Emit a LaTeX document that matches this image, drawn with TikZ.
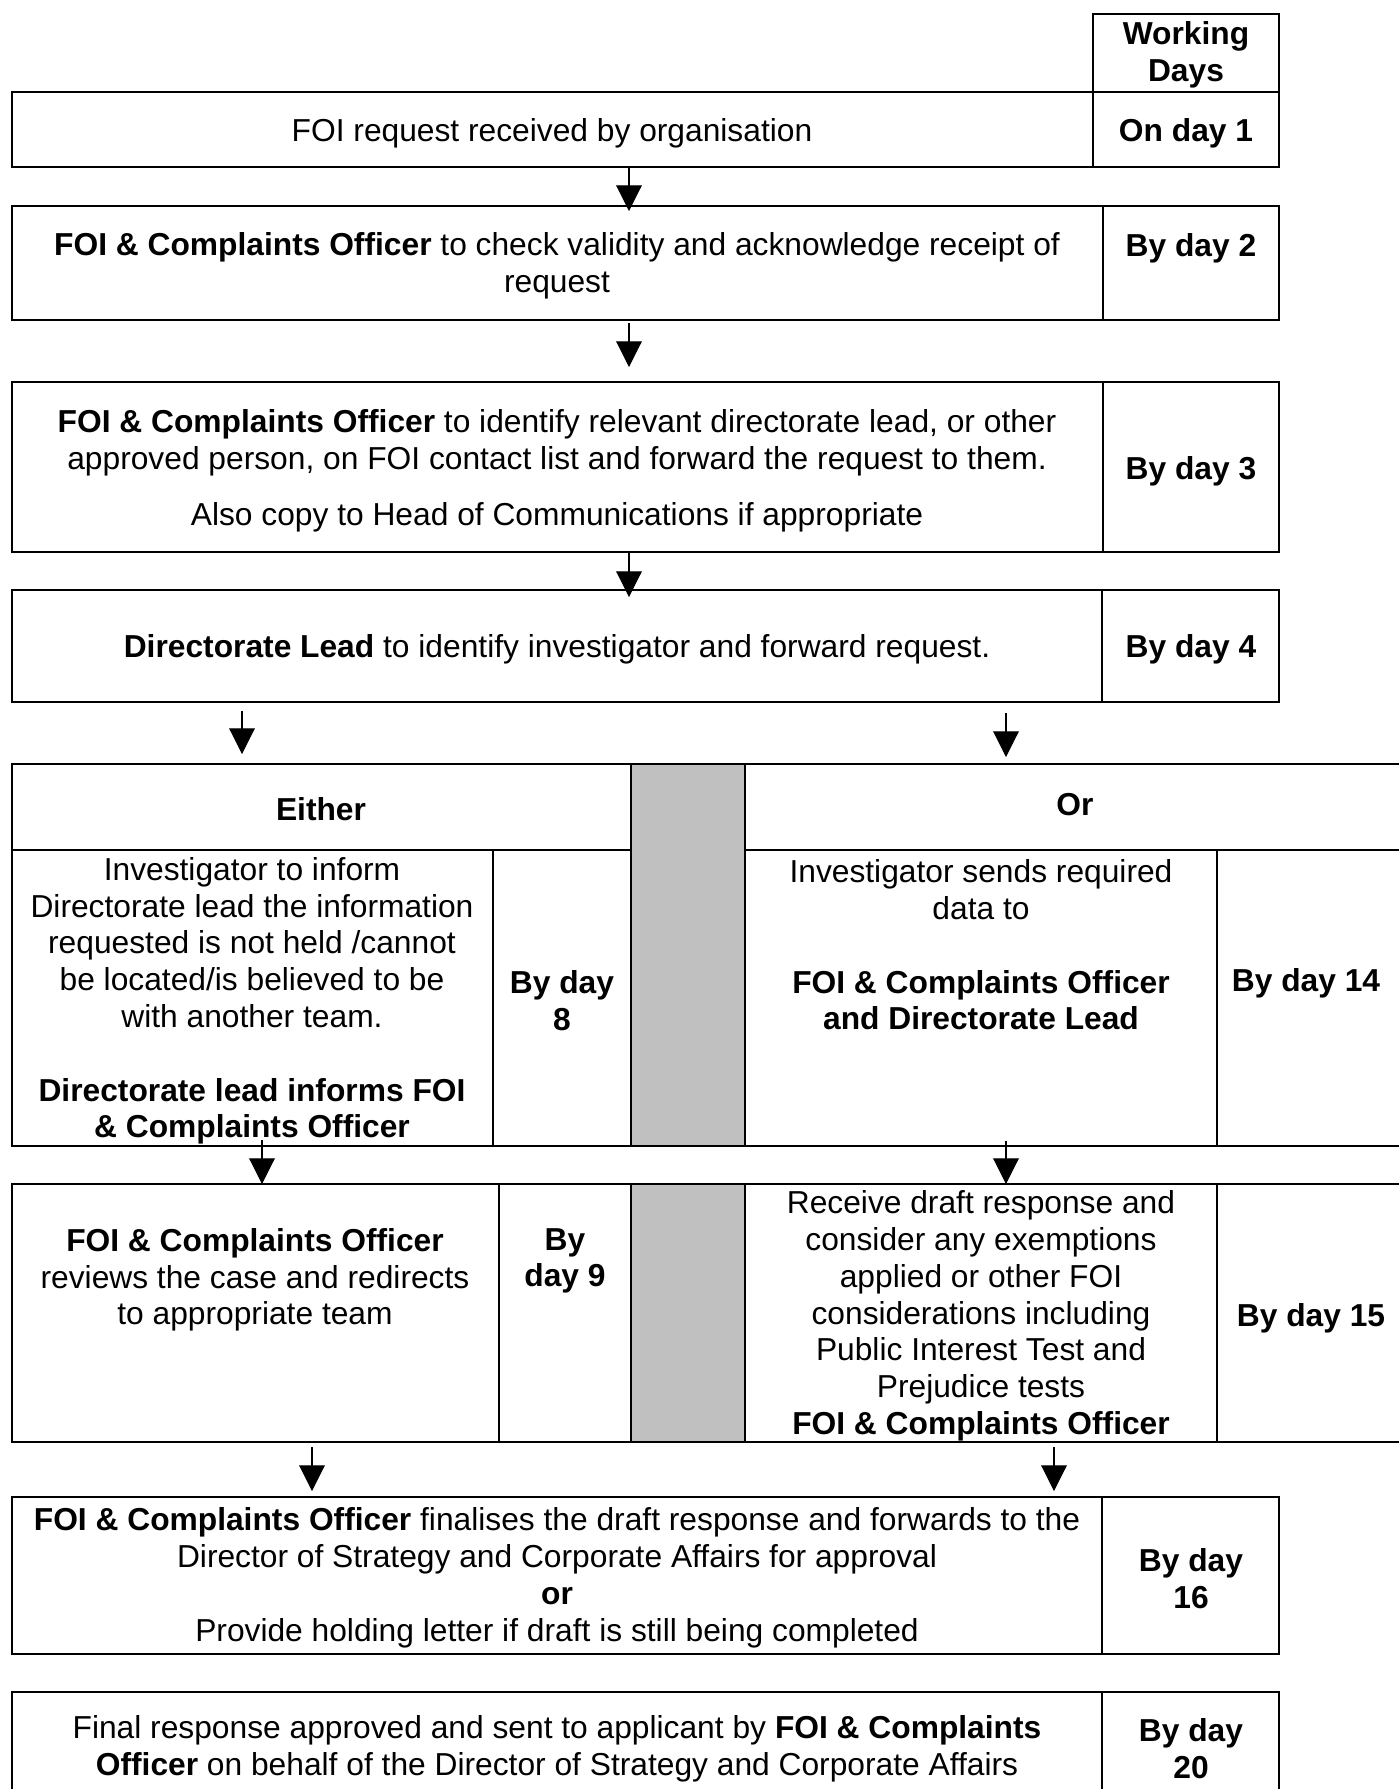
\documentclass[tikz,border=0pt]{standalone}
\usepackage{fontspec}
\setmainfont{Liberation Sans}
\usetikzlibrary{arrows.meta,fit}
\definecolor{colgray}{RGB}{192,192,192}
\begin{document}
\begin{tikzpicture}[x=0.378pt,y=-0.378pt,
  outer/.style={draw,line width=0.65pt,inner sep=0pt,outer sep=0pt},
  inner/.style={draw,line width=0.4pt},
  txt/.style={font=\fontsize{12}{13.9}\selectfont, align=center, inner sep=0pt, yshift=-1.1pt},
  bt/.style={txt, font=\fontsize{12}{13.9}\selectfont\bfseries},
  arr/.style={line width=0.4pt, -{Triangle[width=9.7pt,length=9.7pt]}}]
\useasboundingbox (0,0) rectangle (1399,1789);
\clip (0,0) rectangle (1399,1789);

% ---------- boxes ----------
\node[outer,fit={(1093,14)(1279,92)}] (wdbox) {};
\node[outer,fit={(12,92)(1279,167)}] (r1) {};
\draw[inner] (1093,92) -- (1093,167);
\node[outer,fit={(12,206)(1279,320)}] (r2) {};
\draw[inner] (1103,206) -- (1103,320);
\node[outer,fit={(12,382)(1279,552)}] (r3) {};
\draw[inner] (1103,382) -- (1103,552);
\node[outer,fit={(12,590)(1279,702)}] (r4) {};
\draw[inner] (1102,590) -- (1102,702);

% first split block
\filldraw[inner,fill=colgray] (631,764) rectangle (745,1146);
\node[outer,fit={(12,764)(1410,1146)}] (r5) {};
\draw[line width=0.65pt] (12,850) -- (631,850);
\draw[line width=0.65pt] (745,850) -- (1410,850);
\draw[inner] (493,850) -- (493,1146);
\draw[inner] (1217,850) -- (1217,1146);

% second split block
\filldraw[inner,fill=colgray] (631,1184) rectangle (745,1442);
\node[outer,fit={(12,1184)(1410,1442)}] (r6) {};
\draw[inner] (499,1184) -- (499,1442);
\draw[inner] (1217,1184) -- (1217,1442);

\node[outer,fit={(12,1497)(1279,1654)}] (r7) {};
\draw[inner] (1102,1497) -- (1102,1654);
\node[outer,fit={(12,1692)(1279,1810)}] (r8) {};
\draw[inner] (1102,1692) -- (1102,1810);

% ---------- texts ----------
\node[bt] (wd) at (1186,52) {Working\\Days};
\node[txt] (t1) at (552,130) {FOI request received by organisation};
\node[bt] (d1) at (1186,130) {On day 1};

\node[txt] (t2) at (557,263) {\textbf{FOI \& Complaints Officer} to check validity and acknowledge receipt of\\request};
\node[bt] (d2) at (1191,245) {By day 2};

\node[txt] (t3) at (557,468) {\textbf{FOI \& Complaints Officer} to identify relevant directorate lead, or other\\approved person, on FOI contact list and forward the request to them.\\[7.5pt]Also copy to Head of Communications if appropriate};
\node[bt] (d3) at (1191,468) {By day 3};

\node[txt] (t4) at (557,646) {\textbf{Directorate Lead} to identify investigator and forward request.};
\node[bt] (d4) at (1191,646) {By day 4};

\node[bt] (either) at (321,806) {Either};
\node[bt] (orh) at (1075,802) {Or};
\node[txt] (t5a) at (252,998) {Investigator to inform\\Directorate lead the information\\requested is not held /cannot\\be located/is believed to be\\with another team.\\[13.9pt]\textbf{Directorate lead informs FOI}\\\textbf{\& Complaints Officer}};
\node[bt] (d5a) at (562,998) {By day\\8};
\node[txt] (t5b) at (981,942) {Investigator sends required\\data to\\[13.9pt]\textbf{FOI \& Complaints Officer}\\\textbf{and Directorate Lead}};
\node[bt] (d5b) at (1306,980) {By day 14};

\node[txt] (t6a) at (255,1277) {\textbf{FOI \& Complaints Officer}\\reviews the case and redirects\\to appropriate team};
\node[bt] (d6a) at (565,1258) {By\\day 9};
\node[txt] (t6b) at (981,1313) {Receive draft response and\\consider any exemptions\\applied or other FOI\\considerations including\\Public Interest Test and\\Prejudice tests\\\textbf{FOI \& Complaints Officer}};
\node[bt] (d6b) at (1311,1315) {By day 15};

\node[txt] (t7) at (557,1575) {\textbf{FOI \& Complaints Officer} finalises the draft response and forwards to the\\Director of Strategy and Corporate Affairs for approval\\\textbf{or}\\Provide holding letter if draft is still being completed};
\node[bt] (d7) at (1191,1576) {By day\\16};

\node[txt] (t8) at (557,1746) {Final response approved and sent to applicant by \textbf{FOI \& Complaints}\\\textbf{Officer} on behalf of the Director of Strategy and Corporate Affairs};
\node[bt] (d8) at (1191,1746) {By day\\20};

% ---------- connectors ----------
\coordinate (a1s) at (629,167);  \coordinate (a1e) at (629,211);
\coordinate (a2s) at (629,323);  \coordinate (a2e) at (629,367);
\coordinate (a3s) at (629,552);  \coordinate (a3e) at (629,597);
\coordinate (a4s) at (242,711);  \coordinate (a4e) at (242,754);
\coordinate (a5s) at (1006,713); \coordinate (a5e) at (1006,757);
\coordinate (a6s) at (262,1140); \coordinate (a6e) at (262,1184);
\coordinate (a7s) at (1006,1141); \coordinate (a7e) at (1006,1184);
\coordinate (a8s) at (312,1447); \coordinate (a8e) at (312,1491);
\coordinate (a9s) at (1054,1447); \coordinate (a9e) at (1054,1491);
\draw[arr] (a1s) -- (a1e);
\draw[arr] (a2s) -- (a2e);
\draw[arr] (a3s) -- (a3e);
\draw[arr] (a4s) -- (a4e);
\draw[arr] (a5s) -- (a5e);
\draw[arr] (a6s) -- (a6e);
\draw[arr] (a7s) -- (a7e);
\draw[arr] (a8s) -- (a8e);
\draw[arr] (a9s) -- (a9e);
\end{tikzpicture}
\end{document}
